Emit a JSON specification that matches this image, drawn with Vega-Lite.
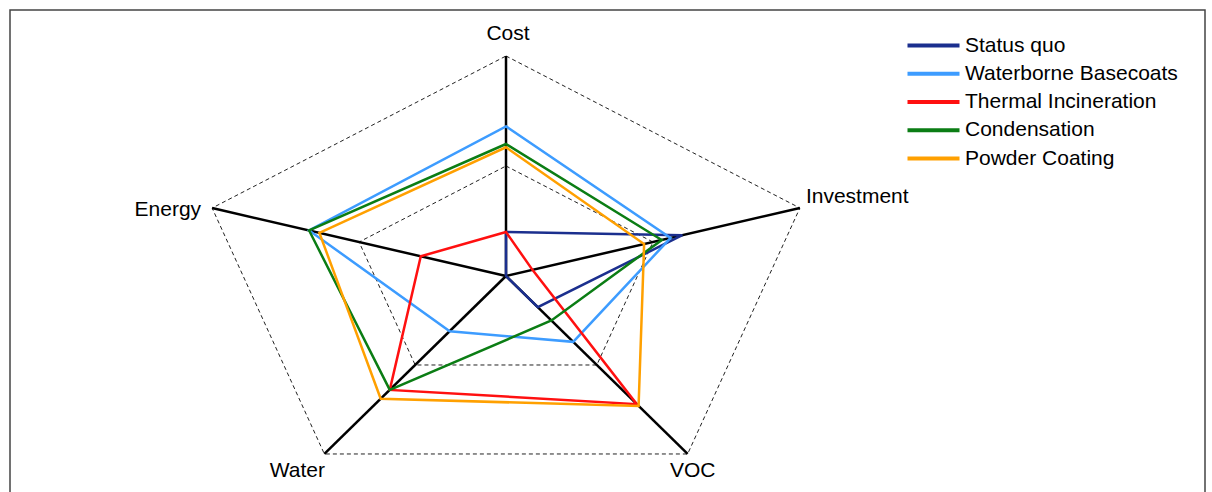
{
  "$schema": "https://vega.github.io/schema/vega-lite/v6.json",
  "width": 1195,
  "height": 490,
  "autosize": {"type": "none"},
  "padding": {"left": 10, "top": 10, "right": 7, "bottom": 0},
  "background": "white",
  "config": {"view": {"stroke": "#444444", "strokeWidth": 1.5}, "font": "Liberation Sans"},
  "datasets": {
    "axes": [
      {"axis": "Cost"}, {"axis": "Investment"}, {"axis": "VOC"}, {"axis": "Water"}, {"axis": "Energy"}
    ],
    "rings": [
      {"ring": 0.5, "axis": "Cost"}, {"ring": 0.5, "axis": "Investment"}, {"ring": 0.5, "axis": "VOC"}, {"ring": 0.5, "axis": "Water"}, {"ring": 0.5, "axis": "Energy"},
      {"ring": 1, "axis": "Cost"}, {"ring": 1, "axis": "Investment"}, {"ring": 1, "axis": "VOC"}, {"ring": 1, "axis": "Water"}, {"ring": 1, "axis": "Energy"}
    ],
    "series": [
      {"series": "Status quo", "axis": "Cost", "value": 0.2},
      {"series": "Status quo", "axis": "Investment", "value": 0.6},
      {"series": "Status quo", "axis": "VOC", "value": 0.175},
      {"series": "Status quo", "axis": "Water", "value": 0},
      {"series": "Status quo", "axis": "Energy", "value": 0},
      {"series": "Waterborne Basecoats", "axis": "Cost", "value": 0.68},
      {"series": "Waterborne Basecoats", "axis": "Investment", "value": 0.56},
      {"series": "Waterborne Basecoats", "axis": "VOC", "value": 0.37},
      {"series": "Waterborne Basecoats", "axis": "Water", "value": 0.31},
      {"series": "Waterborne Basecoats", "axis": "Energy", "value": 0.67},
      {"series": "Thermal Incineration", "axis": "Cost", "value": 0.2},
      {"series": "Thermal Incineration", "axis": "Investment", "value": 0.09},
      {"series": "Thermal Incineration", "axis": "VOC", "value": 0.72},
      {"series": "Thermal Incineration", "axis": "Water", "value": 0.64},
      {"series": "Thermal Incineration", "axis": "Energy", "value": 0.29},
      {"series": "Condensation", "axis": "Cost", "value": 0.6},
      {"series": "Condensation", "axis": "Investment", "value": 0.53},
      {"series": "Condensation", "axis": "VOC", "value": 0.25},
      {"series": "Condensation", "axis": "Water", "value": 0.64},
      {"series": "Condensation", "axis": "Energy", "value": 0.67},
      {"series": "Powder Coating", "axis": "Cost", "value": 0.585},
      {"series": "Powder Coating", "axis": "Investment", "value": 0.47},
      {"series": "Powder Coating", "axis": "VOC", "value": 0.73},
      {"series": "Powder Coating", "axis": "Water", "value": 0.69},
      {"series": "Powder Coating", "axis": "Energy", "value": 0.635}
    ]
  },
  "encoding": {
    "x": {"field": "x", "type": "quantitative", "scale": {"domain": [-1.6052, 2.2621], "nice": false, "zero": false}, "axis": null},
    "y": {"field": "y", "type": "quantitative", "scale": {"domain": [-1.0182, 1.2091], "nice": false, "zero": false}, "axis": null}
  },
  "layer": [
    {
      "data": {"name": "rings"},
      "transform": [
        {"calculate": "indexof(['Cost','Investment','VOC','Water','Energy'], datum.axis)", "as": "i"},
        {"calculate": "datum.ring * sin(datum.i * 2 * PI / 5)", "as": "x"},
        {"calculate": "datum.ring * cos(datum.i * 2 * PI / 5)", "as": "y"}
      ],
      "mark": {"type": "line", "interpolate": "linear-closed", "color": "#222222", "strokeWidth": 1, "strokeDash": [4, 3]},
      "encoding": {"detail": {"field": "ring"}, "order": {"field": "i", "type": "quantitative"}}
    },
    {
      "data": {"name": "axes"},
      "transform": [
        {"calculate": "indexof(['Cost','Investment','VOC','Water','Energy'], datum.axis)", "as": "i"},
        {"calculate": "sin(datum.i * 2 * PI / 5)", "as": "x"},
        {"calculate": "cos(datum.i * 2 * PI / 5)", "as": "y"}
      ],
      "mark": {"type": "rule", "color": "black", "strokeWidth": 2.5},
      "encoding": {"x2": {"datum": 0}, "y2": {"datum": 0}}
    },
    {
      "data": {"name": "series"},
      "transform": [
        {"calculate": "indexof(['Cost','Investment','VOC','Water','Energy'], datum.axis)", "as": "i"},
        {"calculate": "datum.value * sin(datum.i * 2 * PI / 5)", "as": "x"},
        {"calculate": "datum.value * cos(datum.i * 2 * PI / 5)", "as": "y"}
      ],
      "mark": {"type": "line", "interpolate": "linear-closed", "strokeWidth": 2.5},
      "encoding": {
        "color": {
          "field": "series",
          "type": "nominal",
          "sort": ["Status quo", "Waterborne Basecoats", "Thermal Incineration", "Condensation", "Powder Coating"],
          "scale": {
            "domain": ["Status quo", "Waterborne Basecoats", "Thermal Incineration", "Condensation", "Powder Coating"],
            "range": ["#1b2f8e", "#3d9cff", "#ff1010", "#0b7d14", "#ffa000"]
          },
          "legend": {
            "orient": "none",
            "legendX": 913,
            "legendY": 25,
            "title": null,
            "symbolType": "M-5.2,0H5.2",
            "symbolSize": 100,
            "symbolStrokeWidth": 4,
            "labelFont": "Liberation Sans",
            "labelFontSize": 21,
            "labelColor": "black",
            "labelOffset": 21,
            "rowPadding": 6.25,
            "labelLimit": 0
          }
        },
        "order": {"field": "i", "type": "quantitative"}
      }
    },
    {
      "data": {"name": "axes"},
      "transform": [
        {"filter": "datum.axis === 'Cost'"},
        {"calculate": "0", "as": "x"},
        {"calculate": "1", "as": "y"}
      ],
      "mark": {"type": "text", "font": "Liberation Sans", "fontSize": 21, "color": "black", "align": "center", "baseline": "middle", "dx": 2, "dy": -22},
      "encoding": {"text": {"field": "axis"}}
    },
    {
      "data": {"name": "axes"},
      "transform": [
        {"filter": "datum.axis === 'Investment'"},
        {"calculate": "sin(2 * PI / 5)", "as": "x"},
        {"calculate": "cos(2 * PI / 5)", "as": "y"}
      ],
      "mark": {"type": "text", "font": "Liberation Sans", "fontSize": 21, "color": "black", "align": "left", "baseline": "middle", "dx": 6, "dy": -11},
      "encoding": {"text": {"field": "axis"}}
    },
    {
      "data": {"name": "axes"},
      "transform": [
        {"filter": "datum.axis === 'VOC'"},
        {"calculate": "sin(4 * PI / 5)", "as": "x"},
        {"calculate": "cos(4 * PI / 5)", "as": "y"}
      ],
      "mark": {"type": "text", "font": "Liberation Sans", "fontSize": 21, "color": "black", "align": "center", "baseline": "middle", "dx": 5, "dy": 17},
      "encoding": {"text": {"field": "axis"}}
    },
    {
      "data": {"name": "axes"},
      "transform": [
        {"filter": "datum.axis === 'Water'"},
        {"calculate": "sin(6 * PI / 5)", "as": "x"},
        {"calculate": "cos(6 * PI / 5)", "as": "y"}
      ],
      "mark": {"type": "text", "font": "Liberation Sans", "fontSize": 21, "color": "black", "align": "center", "baseline": "middle", "dx": -27, "dy": 17},
      "encoding": {"text": {"field": "axis"}}
    },
    {
      "data": {"name": "axes"},
      "transform": [
        {"filter": "datum.axis === 'Energy'"},
        {"calculate": "sin(8 * PI / 5)", "as": "x"},
        {"calculate": "cos(8 * PI / 5)", "as": "y"}
      ],
      "mark": {"type": "text", "font": "Liberation Sans", "fontSize": 21, "color": "black", "align": "right", "baseline": "middle", "dx": -11, "dy": 2},
      "encoding": {"text": {"field": "axis"}}
    }
  ]
}
